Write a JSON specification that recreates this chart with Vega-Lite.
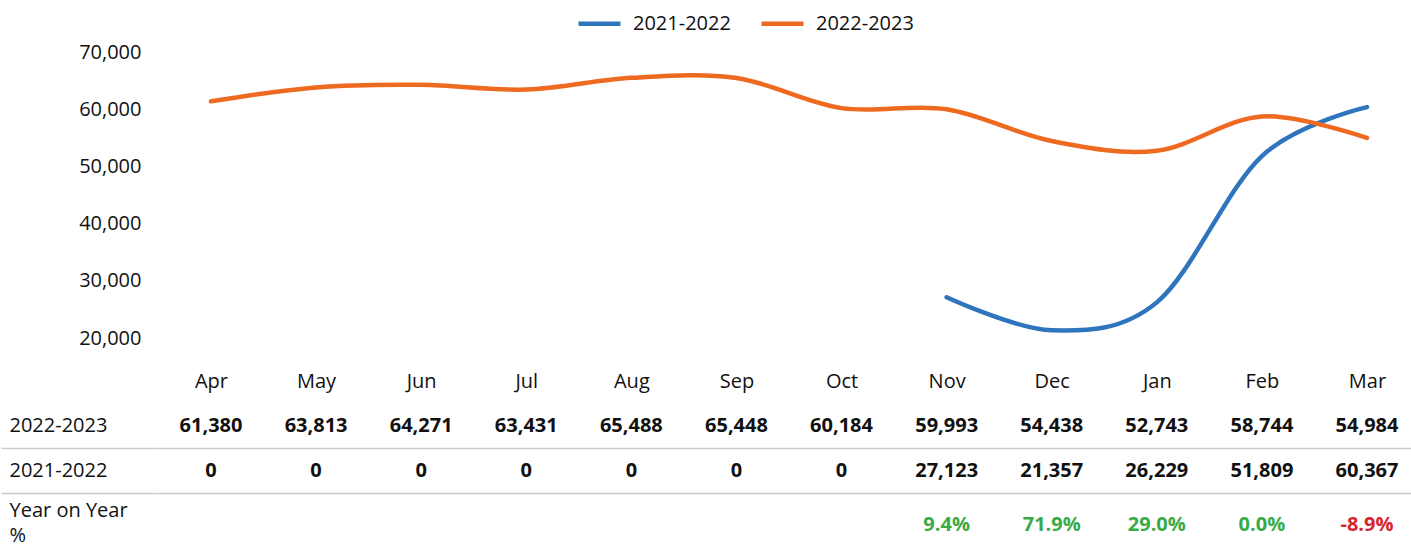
{
  "$schema": "https://vega.github.io/schema/vega-lite/v6.json",
  "padding": 0,
  "spacing": 11,
  "background": "white",
  "config": {
    "view": {"stroke": null},
    "font": "Open Sans",
    "axis": {"labelFont": "Open Sans", "labelColor": "#111111"},
    "legend": {"labelFont": "Open Sans", "labelColor": "#111111"},
    "text": {"font": "Open Sans"}
  },
  "datasets": {
    "lines": [
      {"month": "Apr", "series": "2021-2022", "value": null},
      {"month": "May", "series": "2021-2022", "value": null},
      {"month": "Jun", "series": "2021-2022", "value": null},
      {"month": "Jul", "series": "2021-2022", "value": null},
      {"month": "Aug", "series": "2021-2022", "value": null},
      {"month": "Sep", "series": "2021-2022", "value": null},
      {"month": "Oct", "series": "2021-2022", "value": null},
      {"month": "Nov", "series": "2021-2022", "value": 27123},
      {"month": "Dec", "series": "2021-2022", "value": 21357},
      {"month": "Jan", "series": "2021-2022", "value": 26229},
      {"month": "Feb", "series": "2021-2022", "value": 51809},
      {"month": "Mar", "series": "2021-2022", "value": 60367},
      {"month": "Apr", "series": "2022-2023", "value": 61380},
      {"month": "May", "series": "2022-2023", "value": 63813},
      {"month": "Jun", "series": "2022-2023", "value": 64271},
      {"month": "Jul", "series": "2022-2023", "value": 63431},
      {"month": "Aug", "series": "2022-2023", "value": 65488},
      {"month": "Sep", "series": "2022-2023", "value": 65448},
      {"month": "Oct", "series": "2022-2023", "value": 60184},
      {"month": "Nov", "series": "2022-2023", "value": 59993},
      {"month": "Dec", "series": "2022-2023", "value": 54438},
      {"month": "Jan", "series": "2022-2023", "value": 52743},
      {"month": "Feb", "series": "2022-2023", "value": 58744},
      {"month": "Mar", "series": "2022-2023", "value": 54984}
    ],
    "table": [
      {"month": "Apr", "row": "2022-2023", "label": "61,380"},
      {"month": "May", "row": "2022-2023", "label": "63,813"},
      {"month": "Jun", "row": "2022-2023", "label": "64,271"},
      {"month": "Jul", "row": "2022-2023", "label": "63,431"},
      {"month": "Aug", "row": "2022-2023", "label": "65,488"},
      {"month": "Sep", "row": "2022-2023", "label": "65,448"},
      {"month": "Oct", "row": "2022-2023", "label": "60,184"},
      {"month": "Nov", "row": "2022-2023", "label": "59,993"},
      {"month": "Dec", "row": "2022-2023", "label": "54,438"},
      {"month": "Jan", "row": "2022-2023", "label": "52,743"},
      {"month": "Feb", "row": "2022-2023", "label": "58,744"},
      {"month": "Mar", "row": "2022-2023", "label": "54,984"},
      {"month": "Apr", "row": "2021-2022", "label": "0"},
      {"month": "May", "row": "2021-2022", "label": "0"},
      {"month": "Jun", "row": "2021-2022", "label": "0"},
      {"month": "Jul", "row": "2021-2022", "label": "0"},
      {"month": "Aug", "row": "2021-2022", "label": "0"},
      {"month": "Sep", "row": "2021-2022", "label": "0"},
      {"month": "Oct", "row": "2021-2022", "label": "0"},
      {"month": "Nov", "row": "2021-2022", "label": "27,123"},
      {"month": "Dec", "row": "2021-2022", "label": "21,357"},
      {"month": "Jan", "row": "2021-2022", "label": "26,229"},
      {"month": "Feb", "row": "2021-2022", "label": "51,809"},
      {"month": "Mar", "row": "2021-2022", "label": "60,367"},
      {"month": "Nov", "row": "Year on Year %", "label": "9.4%"},
      {"month": "Dec", "row": "Year on Year %", "label": "71.9%"},
      {"month": "Jan", "row": "Year on Year %", "label": "29.0%"},
      {"month": "Feb", "row": "Year on Year %", "label": "0.0%"},
      {"month": "Mar", "row": "Year on Year %", "label": "-8.9%"}
    ]
  },
  "vconcat": [
    {
      "width": 1253,
      "height": 360,
      "data": {"name": "lines"},
      "mark": {"type": "line", "interpolate": "cardinal", "strokeWidth": 4.5, "strokeCap": "round"},
      "encoding": {
        "x": {
          "field": "month", "type": "ordinal",
          "sort": ["Apr", "May", "Jun", "Jul", "Aug", "Sep", "Oct", "Nov", "Dec", "Jan", "Feb", "Mar"],
          "scale": {"type": "point", "padding": 0.4615, "align": 0.536},
          "axis": null
        },
        "y": {
          "field": "value", "type": "quantitative",
          "scale": {"domain": [16154, 79091], "zero": false, "nice": false},
          "axis": {
            "values": [20000, 30000, 40000, 50000, 60000, 70000],
            "format": ",.0f", "title": null, "domain": false, "ticks": false, "grid": false,
            "labelPadding": 18, "labelFontSize": 20, "minExtent": 158, "maxExtent": 158
          }
        },
        "color": {
          "field": "series", "type": "nominal",
          "scale": {"domain": ["2021-2022", "2022-2023"], "range": ["#2E75BD", "#EF6A21"]},
          "legend": {
            "orient": "none", "legendX": 417, "legendY": 0, "direction": "horizontal",
            "title": null, "symbolType": "stroke", "symbolSize": 1764, "symbolStrokeWidth": 4.5,
            "labelFontSize": 20, "labelOffset": 10, "columnPadding": 21, "padding": 0
          }
        }
      }
    },
    {
      "width": 1253,
      "height": 135,
      "data": {"name": "table"},
      "encoding": {
        "x": {
          "field": "month", "type": "ordinal",
          "sort": ["Apr", "May", "Jun", "Jul", "Aug", "Sep", "Oct", "Nov", "Dec", "Jan", "Feb", "Mar"],
          "scale": {"type": "point", "padding": 0.4615, "align": 0.536},
          "axis": {
            "orient": "top", "title": null, "domain": false, "ticks": false,
            "labelPadding": 11.5, "labelFontSize": 20, "labelAngle": 0
          }
        },
        "y": {
          "field": "row", "type": "nominal",
          "sort": ["2022-2023", "2021-2022", "Year on Year %"],
          "scale": {"type": "band", "paddingInner": 0, "paddingOuter": 0},
          "axis": {
            "title": null, "domain": false,
            "bandPosition": 1,
            "tickSize": 158, "tickColor": "#cccccc", "tickWidth": 1.5,
            "tickOpacity": {"condition": {"test": "datum.value === 'Year on Year %'", "value": 0}, "value": 1},
            "grid": true, "gridColor": "#cccccc", "gridWidth": 1.5,
            "gridOpacity": {"condition": {"test": "datum.value === 'Year on Year %'", "value": 0}, "value": 1},
            "labelAlign": "left", "labelPadding": -8, "labelFontSize": 20,
            "labelOffset": {"condition": {"test": "datum.value === 'Year on Year %'", "value": -5}, "value": 0},
            "labelExpr": "datum.value === 'Year on Year %' ? ['Year on Year', '%'] : datum.value",
            "labelLineHeight": 25,
            "minExtent": 158, "maxExtent": 158
          }
        },
        "text": {"field": "label", "type": "nominal"}
      },
      "layer": [
        {
          "transform": [{"filter": "datum.row !== 'Year on Year %'"}],
          "mark": {"type": "text", "fontWeight": "bold", "fontSize": 20, "color": "#111111"}
        },
        {
          "transform": [{"filter": "datum.row === 'Year on Year %'"}],
          "mark": {"type": "text", "fontWeight": "bold", "fontSize": 20, "dy": 9},
          "encoding": {
            "color": {
              "condition": {"test": "datum.label[0] === '-'", "value": "#D9242B"},
              "value": "#3AAA47"
            }
          }
        }
      ]
    }
  ]
}
